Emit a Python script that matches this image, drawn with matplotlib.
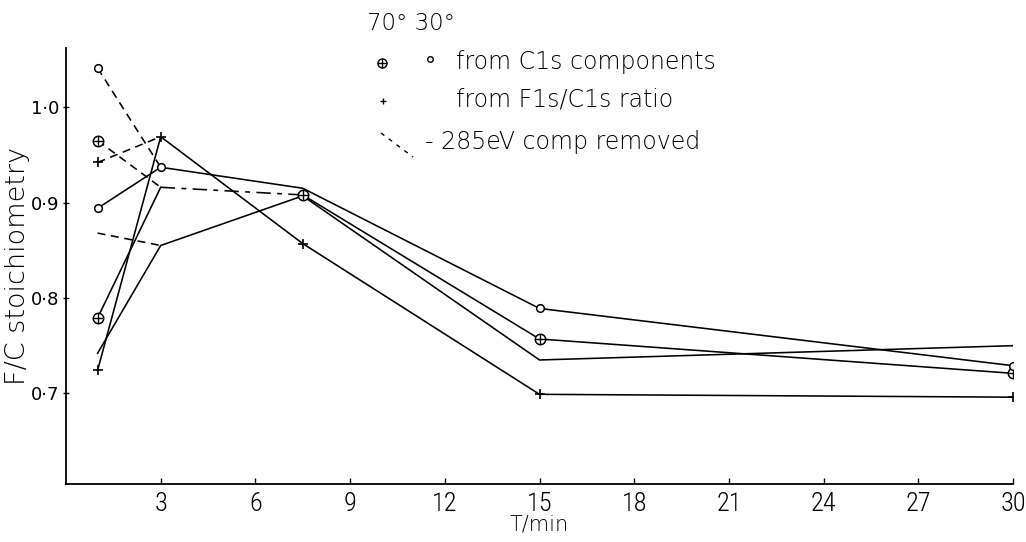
import matplotlib
matplotlib.use("Agg")
import matplotlib.pyplot as plt
import matplotlib.font_manager as fm
from matplotlib.lines import Line2D

# ---------------- data ----------------
T = [1, 3, 7.5, 15, 30]                      # T / min
c1s_70 = [0.779, 0.916, 0.908, 0.757, 0.721]   # (+) in circle, from C1s components, 70 deg
c1s_30 = [0.894, 0.937, 0.915, 0.789, 0.729]   # small circle, from C1s components, 30 deg
ratio_70 = [0.724, 0.969, 0.857, 0.699, 0.696] # +, from F1s/C1s ratio, 70 deg
ratio_30 = [0.742, 0.855, 0.907, 0.735, 0.750] # no marker, from F1s/C1s ratio, 30 deg
# value at T=1 with the 285 eV component removed (dashed)
c1s_70_corr = 0.965
c1s_30_corr = 1.041
ratio_70_corr = 0.942
ratio_30_corr = 0.868

xticks = [3, 6, 9, 12, 15, 18, 21, 24, 27, 30]
yticks = [0.7, 0.8, 0.9, 1.0]
ytick_labels = ["0\u00b77", "0\u00b78", "0\u00b79", "1\u00b70"]

W, H = 1026, 542
fig = plt.figure(figsize=(W / 100, H / 100), dpi=100)
plt.rcParams['font.family'] = ['DejaVu Sans']

# pick a narrow face for the tick numbers if one is installed
ttf = fm.fontManager.ttflist
names = {f.name for f in ttf}
tick_font = {'family': 'DejaVu Sans'}
tick_size = 14.5
for cand in ['Liberation Sans Narrow', 'Roboto Condensed', 'Open Sans Condensed']:
    if cand in names:
        tick_font = {'family': cand}
        tick_size = 19
        break
else:
    if any(f.name == 'DejaVu Sans' and str(f.stretch) == 'condensed' for f in ttf):
        tick_font = {'family': 'DejaVu Sans', 'stretch': 'condensed'}
        tick_size = 16


def fx(px):
    return px / W


def fy(py):
    return 1 - py / H


ax = fig.add_axes([fx(66), fy(484), (1013 - 66) / W, (484 - 48) / H])
ax.set_xlim(0, 30)
ax.set_ylim(0.605, 1.062)
for s in ("top", "right"):
    ax.spines[s].set_visible(False)
for s in ("left", "bottom"):
    ax.spines[s].set_linewidth(1.3)

lw = 1.15
dash = (0, (5, 3.5))
k = 'black'

# dashed segments: corrected T=1 value joined to T=3 value
for corr, ser in [(c1s_70_corr, c1s_70), (c1s_30_corr, c1s_30),
                  (ratio_70_corr, ratio_70), (ratio_30_corr, ratio_30)]:
    ax.plot([T[0], T[1]], [corr, ser[1]], color=k, lw=lw, ls=dash)

# solid series
ax.plot(T, c1s_30, color=k, lw=lw)
ax.plot(T, ratio_70, color=k, lw=lw)
ax.plot(T, ratio_30, color=k, lw=lw)
ax.plot(T[:2], c1s_70[:2], color=k, lw=lw)
ax.plot(T[1:3], c1s_70[1:3], color=k, lw=lw, ls=(0, (9, 4, 3, 4)))
ax.plot(T[2:], c1s_70[2:], color=k, lw=lw)

# markers
oplus_T = [T[0], T[2], T[3], T[4], T[0]]
oplus_v = [c1s_70[0], c1s_70[2], c1s_70[3], c1s_70[4], c1s_70_corr]
ax.plot(oplus_T, oplus_v, ls='none', marker='o', ms=7.5, mfc='white', mec=k, mew=1.1)
ax.plot(oplus_T, oplus_v, ls='none', marker='+', ms=7.5, mec=k, mew=1.0)

circ_T = [T[0], T[1], T[3], T[4], T[0]]
circ_v = [c1s_30[0], c1s_30[1], c1s_30[3], c1s_30[4], c1s_30_corr]
ax.plot(circ_T, circ_v, ls='none', marker='o', ms=5.5, mfc='white', mec=k, mew=1.1)

plus_T = T + [T[0]]
plus_v = ratio_70 + [ratio_70_corr]
ax.plot(plus_T, plus_v, ls='none', marker='+', ms=7, mec=k, mew=1.2)

# ticks
ax.set_xticks(xticks)
ax.set_xticklabels([str(t) for t in xticks], fontsize=tick_size, fontweight='light', **tick_font)
ax.set_yticks(yticks)
ax.set_yticklabels(ytick_labels, fontsize=13)
ax.tick_params(axis='x', direction='in', length=4, width=1, pad=6)
ax.tick_params(axis='y', direction='inout', length=5, width=1, pad=2)

ax.set_xlabel("T/min", fontsize=15, fontweight='light', labelpad=-1)
ax.set_ylabel("F/C stoichiometry", fontsize=19.5, fontweight='light', labelpad=1)

# legend block drawn by hand at the top
fig.text(fx(367), fy(23), "70\u00b0 30\u00b0", fontsize=16.5, fontweight='light',
         ha='left', va='center')
fig.add_artist(Line2D([fx(382)], [fy(63)], marker='o', ms=6.5, mfc='white', mec=k,
                      mew=1.0, ls='none'))
fig.add_artist(Line2D([fx(382)], [fy(63)], marker='+', ms=6.5, mec=k, mew=1.0, ls='none'))
fig.add_artist(Line2D([fx(430)], [fy(59)], marker='o', ms=4, mfc='white', mec=k,
                      mew=1.0, ls='none'))
fig.text(fx(456), fy(62), "from C1s components", fontsize=17, fontweight='light',
         ha='left', va='center')
fig.add_artist(Line2D([fx(383)], [fy(101)], marker='+', ms=5, mec=k, mew=1.0, ls='none'))
fig.text(fx(456), fy(100), "from F1s/C1s ratio", fontsize=17, fontweight='light',
         ha='left', va='center')
fig.add_artist(Line2D([fx(381), fx(413)], [fy(133), fy(157)], color=k, lw=1.0,
                      ls=(0, (3, 4))))
fig.text(fx(425), fy(142), "- 285eV comp removed", fontsize=17, fontweight='light',
         ha='left', va='center')

fig.savefig("out.png", dpi=100)
